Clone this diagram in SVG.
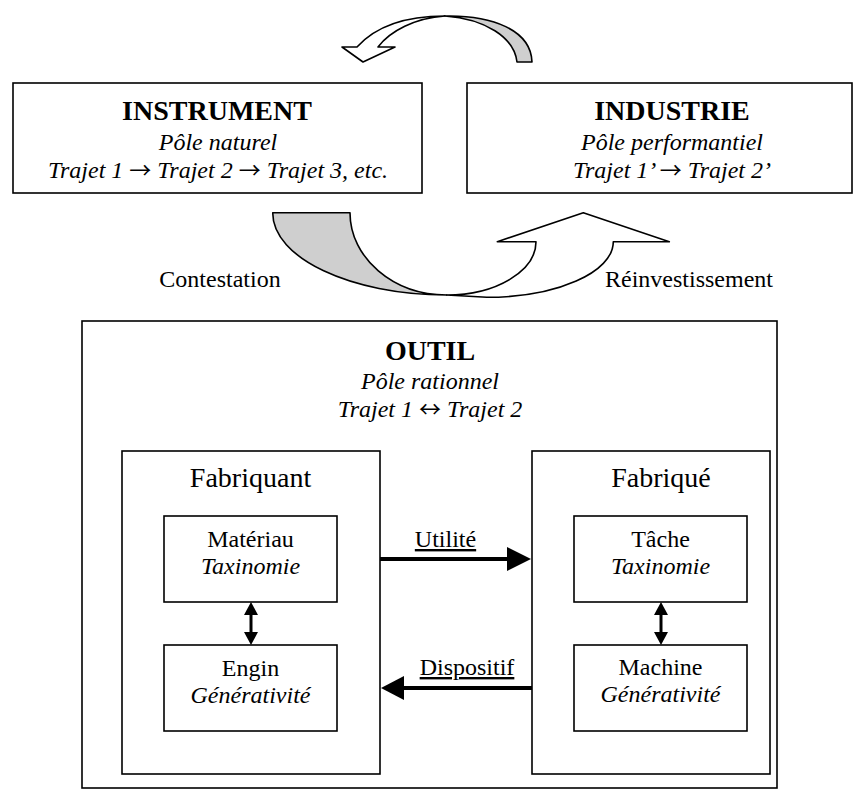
<svg xmlns="http://www.w3.org/2000/svg" width="864" height="790" viewBox="0 0 864 790">
<style>
.box{fill:#fff;stroke:#000;stroke-width:1.6}
.t{font-family:"Liberation Serif","Times New Roman",serif;font-size:24px;fill:#000;text-anchor:middle}
.b{font-weight:bold;font-size:28px}
.i{font-style:italic}
.big{font-size:28px}
.u{text-decoration:underline}
.ar{font-family:"Noto Sans CJK JP","DejaVu Sans",sans-serif;font-style:normal;font-size:22px}
.band{stroke:#000;stroke-width:1.6;stroke-linejoin:round}
.thick{stroke:#000;stroke-width:4;fill:none}
.dbl{stroke:#000;stroke-width:3;fill:none}
</style>
<rect width="864" height="790" fill="#fff"/>

<g id="instrument">
<rect class="box" x="13" y="83" width="409" height="110"/>
<text class="t b" x="217" y="120">INSTRUMENT</text>
<text class="t i" x="218" y="150">Pôle naturel</text>
<text class="t i" x="218" y="178">Trajet 1 <tspan class="ar">→</tspan> Trajet 2 <tspan class="ar">→</tspan> Trajet 3, etc.</text>
</g>

<g id="industrie">
<rect class="box" x="467" y="83" width="385" height="110"/>
<text class="t b" x="672" y="120">INDUSTRIE</text>
<text class="t i" x="672" y="150">Pôle performantiel</text>
<text class="t i" x="672" y="178">Trajet 1’ <tspan class="ar">→</tspan> Trajet 2’</text>
</g>

<g id="outil">
<rect class="box" x="82" y="321" width="695" height="467"/>
<text class="t b" x="430" y="360">OUTIL</text>
<text class="t i" x="430" y="389">Pôle rationnel</text>
<text class="t i" x="430" y="417">Trajet 1 <tspan class="ar">↔</tspan> Trajet 2</text>
</g>

<g id="fabriquant">
<rect class="box" x="122" y="451" width="258" height="323"/>
<text class="t big" x="250.5" y="487">Fabriquant</text>
</g>

<g id="materiau">
<rect class="box" x="164" y="516" width="173" height="86"/>
<text class="t" x="250.5" y="547">Matériau</text>
<text class="t i" x="250.5" y="574">Taxinomie</text>
</g>

<g id="engin">
<rect class="box" x="164" y="645" width="173" height="86"/>
<text class="t" x="250.5" y="676">Engin</text>
<text class="t i" x="250.5" y="703">Générativité</text>
</g>

<g id="fabrique">
<rect class="box" x="532" y="451" width="238" height="323"/>
<text class="t big" x="661" y="487">Fabriqué</text>
</g>

<g id="tache">
<rect class="box" x="574" y="516" width="173" height="86"/>
<text class="t" x="660.5" y="547">Tâche</text>
<text class="t i" x="660.5" y="574">Taxinomie</text>
</g>

<g id="machine">
<rect class="box" x="574" y="645" width="173" height="86"/>
<text class="t" x="660.5" y="675">Machine</text>
<text class="t i" x="660.5" y="702">Générativité</text>
</g>

<g id="connectors">
<path class="band" fill="#cfcfcf" d="M517,62 L532,62 C531,30 492,15 445,16 C485,19 514,37 517,62 Z"/>
<path class="band" fill="#fff" d="M342,47 L357,47 C375,27 405,16 445,16 C415,18 390,31 378,47 L395,47 L363,62 Z"/>
<path class="band" fill="#cfcfcf" d="M272.7,212.7 L350,212.7 C350,258 393.3,295 446.7,295 C350.6,295 272.7,258 272.7,212.7 Z"/>
<path class="band" fill="#fff" d="M446.7,295 C496,295 536,271 536,241.7 L497.3,241.7 L583.3,212.7 L669.3,241.7 L613.3,241.7 C613.3,272.4 556.6,297.3 486.7,297.3 Z"/>
<text class="t" x="220" y="287">Contestation</text>
<text class="t" x="689" y="287">Réinvestissement</text>

<line class="thick" x1="380" y1="559" x2="509" y2="559"/>
<polygon points="507,547 531,559 507,571" fill="#000"/>
<text class="t u" x="445.5" y="547">Utilité</text>
<line class="thick" x1="532" y1="688" x2="402" y2="688"/>
<polygon points="404,676 381,688 404,700" fill="#000"/>
<text class="t u" x="467" y="675">Dispositif</text>

<line class="dbl" x1="251" y1="610" x2="251" y2="637"/>
<polygon points="251,602 244,615 258,615" fill="#000"/>
<polygon points="251,645 244,632 258,632" fill="#000"/>
<line class="dbl" x1="661" y1="610" x2="661" y2="637"/>
<polygon points="661,602 654,615 668,615" fill="#000"/>
<polygon points="661,645 654,632 668,632" fill="#000"/>
</g>
</svg>
